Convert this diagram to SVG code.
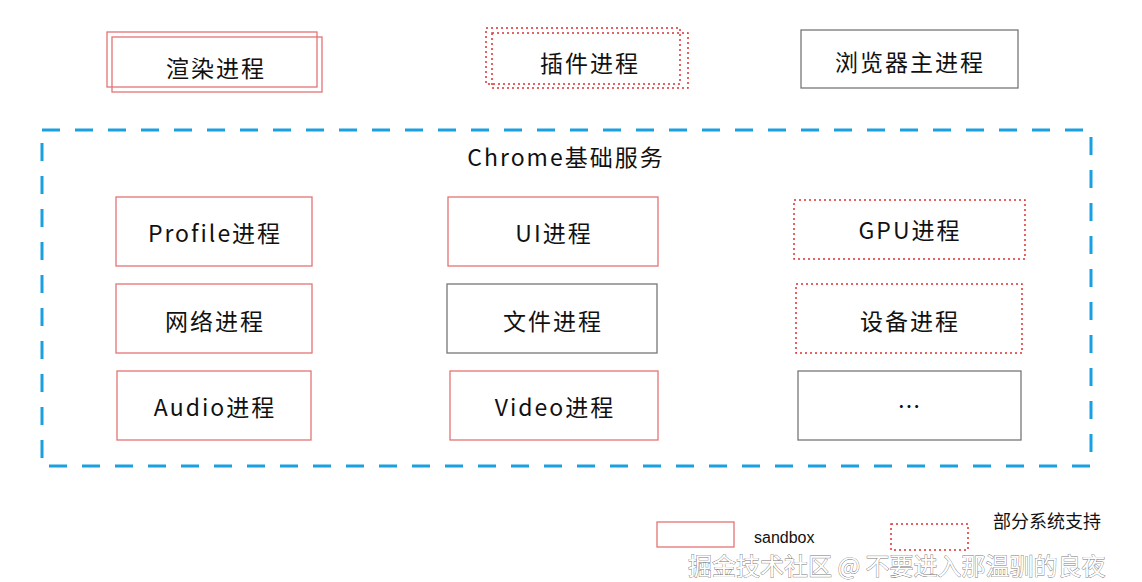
<svg xmlns="http://www.w3.org/2000/svg" width="1142" height="582" viewBox="0 0 1142 582">
<style>
text{font-family:"Noto Sans CJK SC","Noto Sans",sans-serif;fill:#111;}
.lbl{font-size:23px;letter-spacing:2px;text-anchor:middle;dominant-baseline:central;}
.red{fill:none;stroke:#e57373;stroke-width:1.3;}
.dot{fill:none;stroke:#e03030;stroke-width:1.5;stroke-dasharray:2 3;}
.grey{fill:none;stroke:#777;stroke-width:1.3;}
.frame{fill:none;stroke:#1a9fe0;stroke-width:3;stroke-dasharray:18 15;}
.wm{font-size:24px;fill:#fff;stroke:#777;stroke-width:0.8;paint-order:stroke;}
</style>
<rect width="1142" height="582" fill="#fff"/>
<g id="connectors"/>
<g id="render"><rect class="red" x="107" y="32" width="210" height="55"/><rect class="red" x="112" y="37" width="210" height="55"/><text class="lbl" x="216" y="67">渲染进程</text></g>
<g id="plugin"><rect class="dot" x="486" y="28" width="194" height="56"/><rect class="dot" x="492" y="33" width="196" height="55"/><text class="lbl" x="590" y="62">插件进程</text></g>
<g id="browser"><rect class="grey" x="801" y="30" width="217" height="58"/><text class="lbl" x="910" y="61">浏览器主进程</text></g>
<g id="chrome"><rect class="frame" x="42" y="130" width="1049" height="336"/><text class="lbl" x="566" y="156">Chrome基础服务</text></g>
<g id="profile"><rect class="red" x="116" y="197" width="196" height="69"/><text class="lbl" x="215" y="232">Profile进程</text></g>
<g id="ui"><rect class="red" x="448" y="197" width="210" height="69"/><text class="lbl" x="554" y="232">UI进程</text></g>
<g id="gpu"><rect class="dot" x="794" y="200" width="231" height="59"/><text class="lbl" x="910" y="229">GPU进程</text></g>
<g id="network"><rect class="red" x="116" y="284" width="196" height="69"/><text class="lbl" x="215" y="320">网络进程</text></g>
<g id="file"><rect class="grey" x="447" y="284" width="210" height="69"/><text class="lbl" x="553" y="320">文件进程</text></g>
<g id="device"><rect class="dot" x="796" y="284" width="226" height="69"/><text class="lbl" x="910" y="320">设备进程</text></g>
<g id="audio"><rect class="red" x="117" y="371" width="194" height="69"/><text class="lbl" x="215" y="406">Audio进程</text></g>
<g id="video"><rect class="red" x="450" y="371" width="208" height="69"/><text class="lbl" x="555" y="406">Video进程</text></g>
<g id="more"><rect class="grey" x="798" y="371" width="223" height="69"/><text class="lbl" x="910" y="405">…</text></g>
<g id="legend-sandbox"><rect class="red" x="657" y="522" width="77" height="25"/><text x="754" y="543" font-size="16" style="font-family:'Liberation Sans',sans-serif">sandbox</text></g>
<g id="legend-partial"><rect class="dot" x="891" y="524" width="77" height="26"/><text x="993" y="528" font-size="18">部分系统支持</text></g>
<text class="wm" x="688" y="575">掘金技术社区 @ 不要进入那温驯的良夜</text>
</svg>
